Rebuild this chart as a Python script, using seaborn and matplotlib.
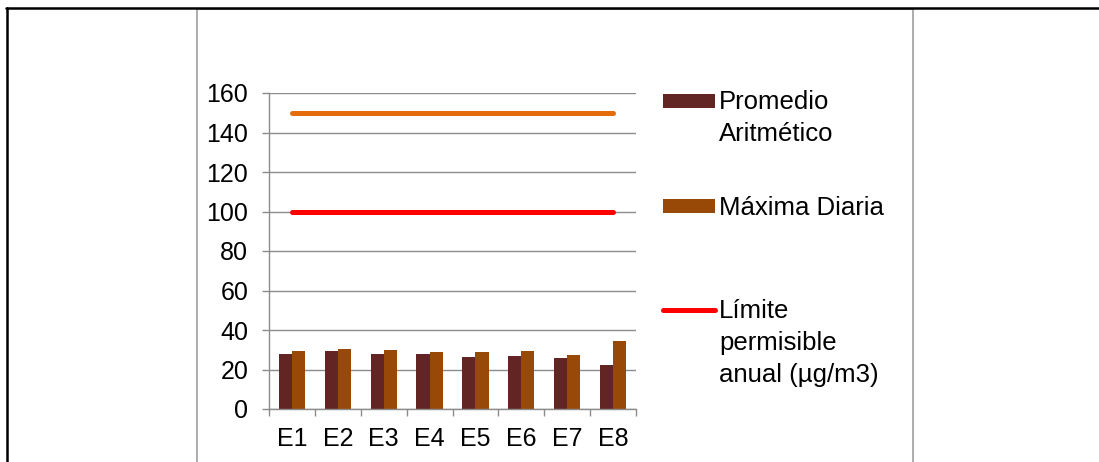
import numpy as np
import pandas as pd
import matplotlib
matplotlib.use("Agg")
import matplotlib.pyplot as plt
from matplotlib.patches import Rectangle
from matplotlib.lines import Line2D
import seaborn as sns

# Stations and measured PM values
estaciones = ["E1", "E2", "E3", "E4", "E5", "E6", "E7", "E8"]
promedio_aritmetico = [27.7, 29.4, 28.0, 27.8, 26.5, 26.8, 25.8, 22.3]
maxima_diaria = [29.2, 30.4, 29.9, 28.9, 28.7, 29.2, 27.3, 34.6]
limite_diario = [150, 150, 150, 150, 150, 150, 150, 150]
limite_anual = [100, 100, 100, 100, 100, 100, 100, 100]

series_names = ["Promedio\nAritmético", "Máxima Diaria"]
limit_label = "Límite\npermisible\nanual (µg/m3)"
y_ticks = [0, 20, 40, 60, 80, 100, 120, 140, 160]

col_prom = "#632523"
col_max = "#984807"
col_diario = "#E46C0A"
col_anual = "#FF0000"
grid_col = "#8C8C8C"

sns.set_theme(style="white")
plt.rcParams["font.family"] = ["Liberation Sans", "DejaVu Sans"]
FS = 18
FS_LEG = 18.5

W, H = 1099, 462
fig = plt.figure(figsize=(W / 100, H / 100), dpi=100)


def fx(x):
    return x / W


def fy(y):
    return 1 - y / H


ax = fig.add_axes([fx(269), fy(409), (636 - 269) / W, (409 - 93) / H])

df = pd.DataFrame({
    "estacion": estaciones * 2,
    "serie": [series_names[0]] * len(estaciones) + [series_names[1]] * len(estaciones),
    "valor": promedio_aritmetico + maxima_diaria,
})

sns.barplot(data=df, x="estacion", y="valor", hue="serie", order=estaciones,
            hue_order=series_names, palette=[col_prom, col_max],
            width=0.57, gap=0, saturation=1, legend=False, ax=ax,
            edgecolor="none", linewidth=0)

pos = np.arange(len(estaciones))
sns.lineplot(x=pos, y=limite_diario, color=col_diario, linewidth=3.6,
             solid_capstyle="round", ax=ax, legend=False)
sns.lineplot(x=pos, y=limite_anual, color=col_anual, linewidth=3.6,
             solid_capstyle="round", ax=ax, legend=False)

ax.set_xlim(-0.5, len(estaciones) - 0.5)
ax.set_ylim(0, 160)
ax.set_yticks(y_ticks)
ax.set_yticklabels([str(v) for v in y_ticks], fontsize=FS, color="black")
ax.set_xticks(pos)
ax.set_xticklabels(estaciones, fontsize=FS, color="black")
ax.set_xticks(np.arange(-0.5, len(estaciones)), minor=True)
ax.set_xlabel("")
ax.set_ylabel("")

ax.yaxis.grid(True, color=grid_col, linewidth=1.0)
ax.xaxis.grid(False)
ax.set_axisbelow(True)
for s in ["top", "right"]:
    ax.spines[s].set_visible(False)
for s in ["left", "bottom"]:
    ax.spines[s].set_color(grid_col)
    ax.spines[s].set_linewidth(1.0)

ax.tick_params(axis="y", which="major", direction="out", length=5, width=1.0,
               color=grid_col, pad=10, left=True)
ax.tick_params(axis="x", which="major", length=0, pad=13)
ax.tick_params(axis="x", which="minor", direction="out", length=5, width=1.0,
               color=grid_col, bottom=True)

# Legend drawn on the figure canvas
fig.patches.append(Rectangle((fx(663), fy(108)), (715 - 663) / W, 14 / H,
                             transform=fig.transFigure, facecolor=col_prom,
                             edgecolor="none"))
fig.patches.append(Rectangle((fx(663), fy(213)), (715 - 663) / W, 14 / H,
                             transform=fig.transFigure, facecolor=col_max,
                             edgecolor="none"))
fig.lines.append(Line2D([fx(663), fx(715)], [fy(310), fy(310)],
                        transform=fig.transFigure, color=col_anual,
                        linewidth=3.6, solid_capstyle="round"))
LINE_STEP = 31.8
for label, base in [(series_names[0], 109), (series_names[1], 215), (limit_label, 318)]:
    for i, part in enumerate(label.split("\n")):
        fig.text(fx(719), fy(base + i * LINE_STEP), part, fontsize=FS_LEG,
                 va="baseline", ha="left", color="black")

# Surrounding frame lines
fig.lines.append(Line2D([fx(197), fx(197)], [fy(9), 0], transform=fig.transFigure,
                        color="#A6A6A6", linewidth=1.3))
fig.lines.append(Line2D([fx(912.5), fx(912.5)], [fy(9), 0], transform=fig.transFigure,
                        color="#A6A6A6", linewidth=1.3))
fig.lines.append(Line2D([fx(197), fx(912.5)], [fy(9), fy(9)], transform=fig.transFigure,
                        color="#A6A6A6", linewidth=1.3))
fig.lines.append(Line2D([fx(6), 1], [fy(7.5), fy(7.5)], transform=fig.transFigure,
                        color="black", linewidth=1.8))
fig.lines.append(Line2D([fx(7), fx(7)], [fy(7.5), 0], transform=fig.transFigure,
                        color="black", linewidth=1.8))

fig.savefig("out.png", dpi=100, facecolor="white")
